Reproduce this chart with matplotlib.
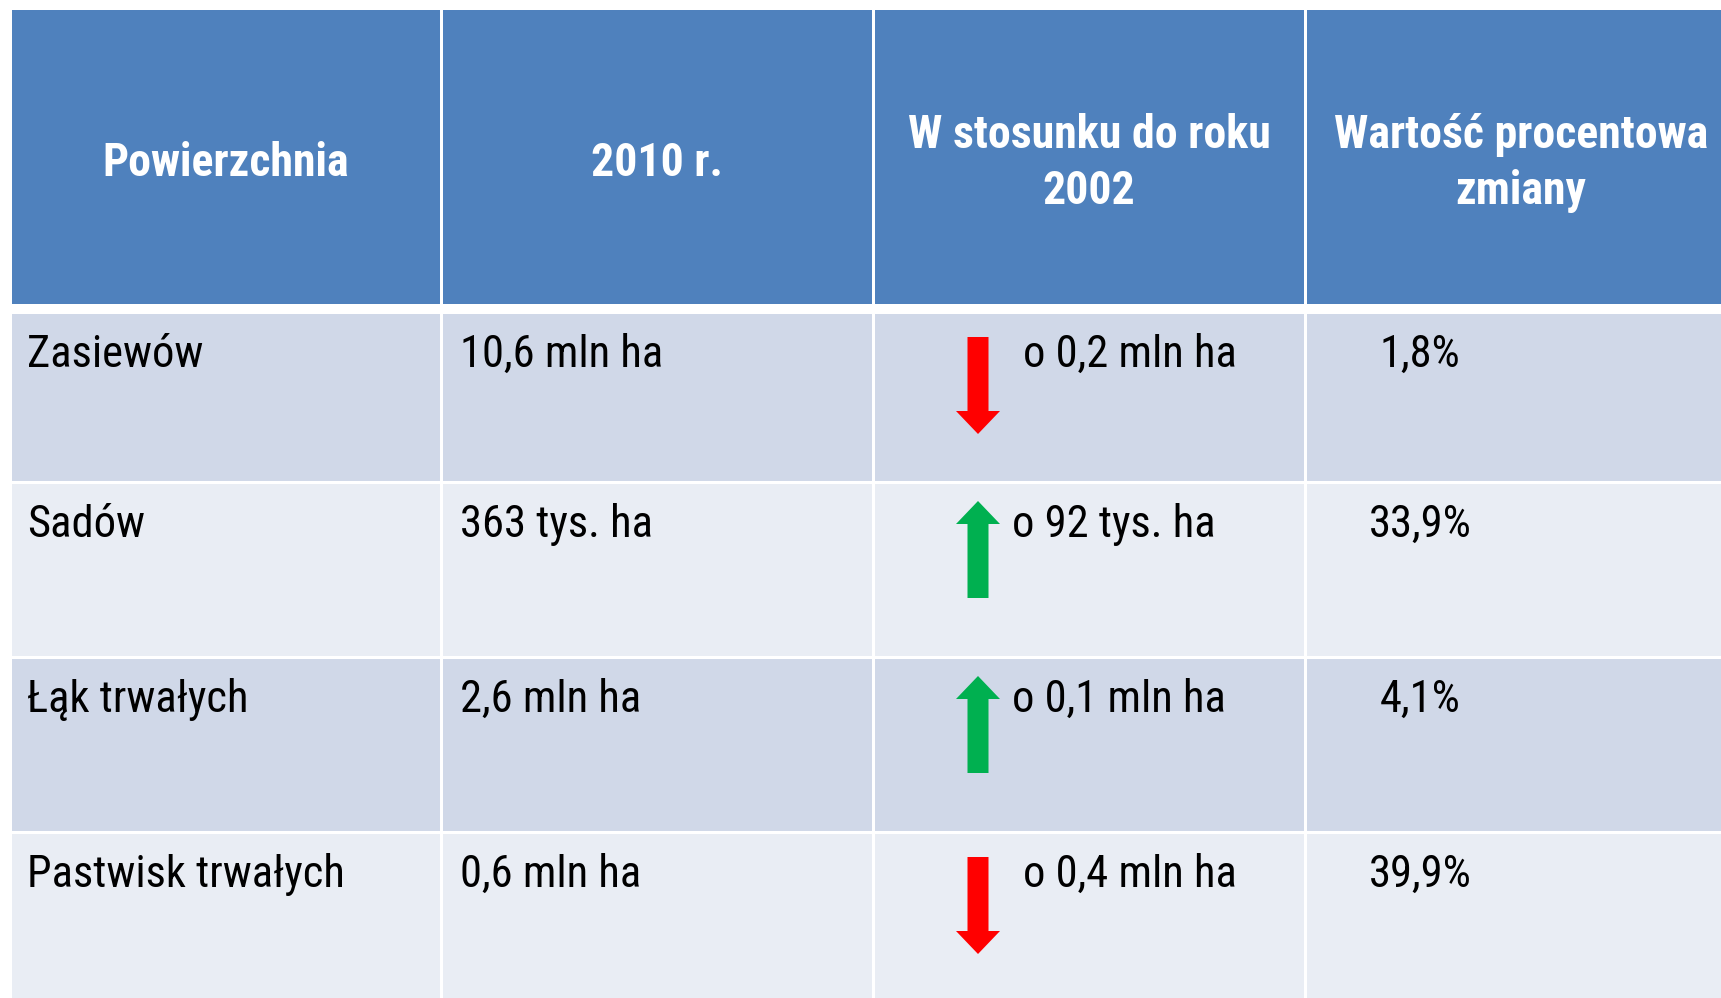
import matplotlib
matplotlib.use("Agg")
import matplotlib.pyplot as plt
from matplotlib.patches import Rectangle

# dane tabeli
headers = ["Powierzchnia", "2010 r.", "W stosunku do roku\n2002", "Wartość procentowa\nzmiany"]
categories = ["Zasiewów", "Sadów", "Łąk trwałych", "Pastwisk trwałych"]
values_2010 = ["10,6 mln ha", "363 tys. ha", "2,6 mln ha", "0,6 mln ha"]
changes = ["o 0,2 mln ha", "o 92 tys. ha", "o 0,1 mln ha", "o 0,4 mln ha"]
directions = [-1, 1, 1, -1]
percents = ["1,8%", "33,9%", "4,1%", "39,9%"]

W, H = 1721, 998
fig = plt.figure(figsize=(W / 100, H / 100), dpi=100)
ax = fig.add_axes([0, 0, 1, 1])
ax.set_xlim(0, W)
ax.set_ylim(H, 0)
ax.axis("off")

narrow = ["Roboto Condensed", "DejaVu Sans"]
header_blue = "#4F81BD"
row_colors = ["#D0D8E8", "#E9EDF4"]
body_size = 32

# siatka kolumn i wierszy (w pikselach)
col_edges = [10, 441, 873, 1305, 1737]
head_top, head_bot = 10, 304
row_edges = [312, 482, 657, 832, 1002]
gap = 1.5

for j in range(4):
    x0, x1 = col_edges[j], col_edges[j + 1]
    ax.add_patch(Rectangle((x0 + gap, head_top), x1 - x0 - 2 * gap, head_bot - head_top,
                           facecolor=header_blue, edgecolor="none"))
    ax.text((x0 + x1) / 2, (head_top + head_bot) / 2 + 6, headers[j], color="white",
            fontsize=33, fontweight="bold", family=narrow, ha="center", va="center",
            linespacing=1.35)

for i in range(len(categories)):
    y0, y1 = row_edges[i], row_edges[i + 1]
    for j in range(4):
        x0, x1 = col_edges[j], col_edges[j + 1]
        ax.add_patch(Rectangle((x0 + gap, y0 + gap), x1 - x0 - 2 * gap, y1 - y0 - 2 * gap,
                               facecolor=row_colors[i % 2], edgecolor="none"))
    base = y0 + 55
    ax.text(col_edges[0] + 17, base, categories[i], fontsize=body_size, family=narrow,
            ha="left", va="baseline")
    ax.text(col_edges[1] + 19, base, values_2010[i], fontsize=body_size, family=narrow,
            ha="left", va="baseline")

    # strzałka zmiany
    arrow_x = 978
    if directions[i] < 0:
        start, length, color = y0 + 25, 97, "#FF0000"
        tx = 1023
    else:
        start, length, color = y0 + 116, -97, "#00B050"
        tx = 1012
    ax.arrow(arrow_x, start, 0, length, width=21, head_width=44, head_length=23,
             length_includes_head=True, facecolor=color, edgecolor="none")
    ax.text(tx, base, changes[i], fontsize=body_size, family=narrow, ha="left", va="baseline")
    ax.text(1420, base, percents[i], fontsize=body_size, family=narrow, ha="center", va="baseline")

fig.savefig("out.png", dpi=100, facecolor="white")
